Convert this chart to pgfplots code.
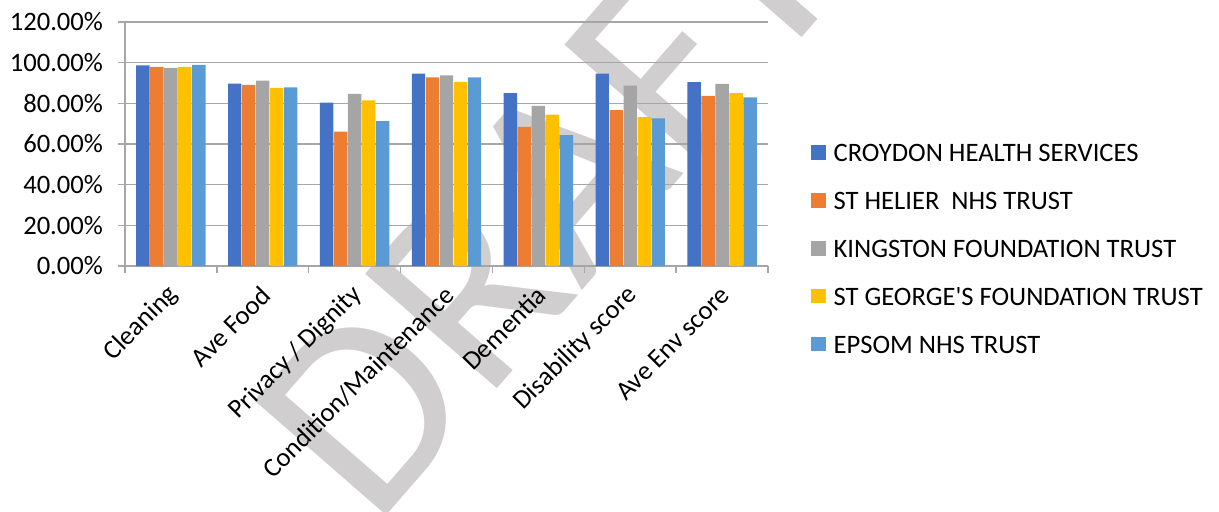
\documentclass[border=0pt]{standalone}
\usepackage{pgfplots}
\pgfplotsset{compat=1.18}
\usepackage{fontspec}
\setmainfont{Carlito}
\definecolor{cA}{HTML}{4472C4}
\definecolor{cB}{HTML}{ED7D31}
\definecolor{cC}{HTML}{A5A5A5}
\definecolor{cD}{HTML}{FFC000}
\definecolor{cE}{HTML}{5B9BD5}
\definecolor{gridg}{HTML}{A6A6A6}
\definecolor{wm}{HTML}{D0CECE}
\begin{document}
\begin{tikzpicture}
\useasboundingbox (0,0) rectangle (609.5pt,255.5pt);
\node[rotate=49, inner sep=0pt, text=wm, font=\fontsize{136}{136}\selectfont] at (274pt,157pt) {DRAFT};
\begin{axis}[
  at={(62.5pt,122.5pt)}, anchor=south west,
  scale only axis, width=321.5pt, height=122pt,
  ybar=0.3pt, bar width=6.7pt,
  xmin=-0.5, xmax=6.5, ymin=0, ymax=120,
  xtick={0,...,6},
  xticklabels={Cleaning,Ave Food,Privacy / Dignity,Condition/Maintenance,Dementia,Disability score,Ave Env score},
  every major x tick/.append style={draw=none},
  minor xtick={-0.5,0.5,...,6.5},
  minor tick length=3.5pt, major tick length=3.5pt,
  tick align=outside,
  ytick={0,20,...,120},
  yticklabel={\pgfmathprintnumber[fixed,fixed zerofill,precision=2]{\tick}\%},
  /pgf/number format/assume math mode=true,
  ymajorgrids, grid style={gridg, line width=0.7pt},
  axis x line*=bottom, axis y line*=left,
  axis line style={gridg, line width=0.7pt},
  tick style={gridg, line width=0.7pt},
  tick label style={font=\fontsize{13.3}{15}\selectfont, text=black},
  yticklabel style={xshift=-4pt},
  xticklabel style={xshift=4pt, yshift=-6.5pt, rotate=45, anchor=east},
  legend style={draw=none, fill=none, at={(1.0669,0.0725)}, anchor=west,
    font=\fontsize{13.3}{15}\selectfont, inner sep=0pt, row sep=14.95pt, column sep=3.8pt,
    nodes={inner sep=0pt, text height=9pt, text depth=0pt}},
  legend cell align=left,
  legend image code/.code={\fill[#1] (0pt,-3.6pt) rectangle (7.3pt,3.6pt);},
]
\addplot[fill=cA, draw=none] coordinates {(0,98.7) (1,89.7) (2,80.3) (3,94.6) (4,85.0) (5,94.6) (6,90.4)};
\addplot[fill=cB, draw=none] coordinates {(0,97.9) (1,89.1) (2,66.1) (3,92.8) (4,68.4) (5,76.7) (6,83.7)};
\addplot[fill=cC, draw=none] coordinates {(0,97.4) (1,91.2) (2,84.7) (3,93.8) (4,78.8) (5,88.7) (6,89.6)};
\addplot[fill=cD, draw=none] coordinates {(0,97.9) (1,87.6) (2,81.4) (3,90.5) (4,74.4) (5,73.2) (6,85.0)};
\addplot[fill=cE, draw=none] coordinates {(0,98.9) (1,87.8) (2,71.3) (3,92.8) (4,64.4) (5,72.6) (6,82.9)};
\legend{CROYDON HEALTH SERVICES, ST HELIER\ \ NHS TRUST, KINGSTON FOUNDATION TRUST, ST GEORGE\textquotesingle S FOUNDATION TRUST, EPSOM NHS TRUST}
\end{axis}
\end{tikzpicture}
\end{document}
